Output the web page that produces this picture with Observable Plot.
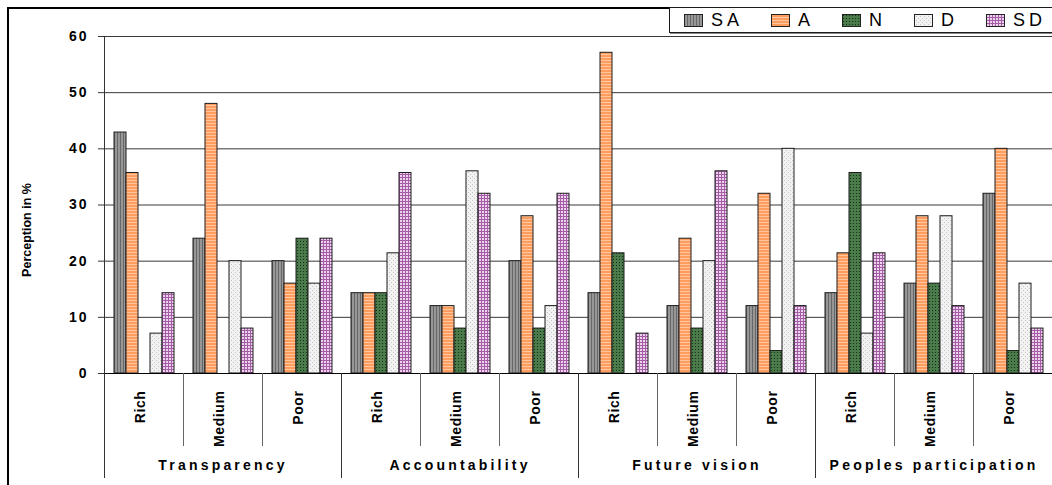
<!DOCTYPE html>
<html>
<head>
<meta charset="utf-8">
<script src="https://cdn.jsdelivr.net/npm/d3@7"></script>
<script src="https://cdn.jsdelivr.net/npm/@observablehq/plot@0.6"></script>
<style>
  body { margin: 0; background: #fff; font-family: "Liberation Sans", Arial, sans-serif; }
  #wrap { position: relative; width: 1052px; height: 485px; overflow: hidden; }
  #border { position: absolute; left: 7px; top: 7px; width: 1200px; height: 700px; border-left: 2px solid #000; border-top: 2px solid #000; }
  #chart { position: absolute; left: 0; top: 0; }
  #legend { position: absolute; left: 669px; top: 7px; width: 371px; height: 24px; border: 1px solid #1a1a1a; box-shadow: 1px 1px 0 #888; background: #fff; display: flex; align-items: center; padding-left: 14px; box-sizing: content-box; }
  .item { display: flex; align-items: center; margin-right: 28px; }
  .item svg { display: block; margin-right: 8px; }
  .item span { font-size: 18px; letter-spacing: 4px; color: #000; line-height: 1; }
</style>
</head>
<body>
<svg width="0" height="0" style="position:absolute">
  <defs>
    <pattern id="pSA" patternUnits="userSpaceOnUse" width="3" height="3">
      <rect width="3" height="3" fill="#979797"/>
      <rect width="1" height="3" fill="#686868"/>
    </pattern>
    <pattern id="pA" patternUnits="userSpaceOnUse" width="3" height="3">
      <rect width="3" height="3" fill="#ff9d5e"/>
      <rect width="3" height="1" fill="#ffc6a0"/>
    </pattern>
    <pattern id="pN" patternUnits="userSpaceOnUse" width="3" height="3">
      <rect width="3" height="3" fill="#4b7b4b"/>
      <rect x="1" y="1" width="1" height="1" fill="#163216"/>
    </pattern>
    <pattern id="pD" patternUnits="userSpaceOnUse" width="4" height="4">
      <rect width="4" height="4" fill="#f2f2f2"/>
      <rect x="0" y="0" width="1" height="1" fill="#c4c4c4"/>
      <rect x="2" y="2" width="1" height="1" fill="#c4c4c4"/>
    </pattern>
    <pattern id="pSD" patternUnits="userSpaceOnUse" width="3" height="3">
      <rect width="3" height="3" fill="#a45ca4"/>
      <rect x="1" y="1" width="2" height="2" fill="#eed3ee"/>
    </pattern>
  </defs>
</svg>
<div id="wrap">
  <div id="border"></div>
  <div id="chart"></div>
  <div id="legend"></div>
</div>
<script>
// ---- data ----
const categories = ["Transparency", "Accountability", "Future vision", "Peoples participation"];
const levels = ["Rich", "Medium", "Poor"];
const seriesNames = ["SA", "A", "N", "D", "SD"];
// values per subgroup, order: Transparency R/M/P, Accountability R/M/P, Future vision R/M/P, Peoples participation R/M/P
const valuesSA = [42.9, 24, 20, 14.3, 12, 20, 14.3, 12, 12, 14.3, 16, 32];
const valuesA  = [35.7, 48, 16, 14.3, 12, 28, 57.1, 24, 32, 21.4, 28, 40];
const valuesN  = [0, 0, 24, 14.3, 8, 8, 21.4, 8, 4, 35.7, 16, 4];
const valuesD  = [7.1, 20, 16, 21.4, 36, 12, 0, 20, 40, 7.1, 28, 16];
const valuesSD = [14.3, 8, 24, 35.7, 32, 32, 7.1, 36, 12, 21.4, 12, 8];
const yTicks = [0, 10, 20, 30, 40, 50, 60];
const gridTicks = [10, 20, 30, 40, 50, 60];
const yLabel = "Perception in %";
const patternIds = ["pSA", "pA", "pN", "pD", "pSD"];

// ---- build table ----
const seriesValues = [valuesSA, valuesA, valuesN, valuesD, valuesSD];
const keys = categories.flatMap(c => levels.map(l => c + "|" + l));
const rows = [];
categories.forEach((c, ci) => levels.forEach((l, li) => seriesNames.forEach((s, si) => {
  const v = seriesValues[si][ci * levels.length + li];
  if (v > 0) rows.push({key: c + "|" + l, cat: c, level: l, series: s, value: v});
})));
const subRows = keys.map(k => ({key: k, level: k.split("|")[1]}));

const plot = Plot.plot({
  width: 1052,
  height: 485,
  marginLeft: 104,
  marginRight: 0,
  marginTop: 36,
  marginBottom: 112,
  style: {fontFamily: "Liberation Sans, Arial, sans-serif", background: "transparent", color: "#000", overflow: "visible"},
  fx: {domain: keys, padding: 0, axis: null},
  x: {domain: seriesNames, paddingInner: 0, paddingOuter: 0.7, axis: null},
  y: {domain: [0, 60], axis: null},
  color: {domain: seriesNames, range: patternIds.map(id => `url(#${id})`)},
  marks: [
    Plot.ruleY(gridTicks, {stroke: "#383838", strokeWidth: 1}),
    Plot.barY(rows, {fx: "key", x: "series", y: "value", fill: "series", stroke: "#1c1c1c", strokeWidth: 1, inset: 0}),
    Plot.ruleY([0], {stroke: "#000", strokeWidth: 1}),
    Plot.axisY({ticks: yTicks, tickSize: 6, tickPadding: 10, fontSize: 14, fontWeight: "bold", stroke: "#333", label: null}),
    Plot.text(subRows, {fx: "key", text: "level", frameAnchor: "bottom", rotate: -90, textAnchor: "end", lineAnchor: "middle", dy: 17, dx: -3, fontSize: 14, fontWeight: "bold"}),
    Plot.text(categories, {fx: d => d + "|Medium", text: d => d, frameAnchor: "bottom", textAnchor: "middle", dy: 96, fontSize: 14, fontWeight: "bold"}),
    Plot.text([yLabel], {fx: () => keys[0], text: d => d, frameAnchor: "left", textAnchor: "middle", rotate: -90, dx: -78, dy: 25, fontSize: 12.5, fontWeight: "bold"})
  ]
});
document.getElementById("chart").appendChild(plot);

const svg = d3.select(plot.tagName.toLowerCase() === "svg" ? plot : plot.querySelector("svg"));

// letter spacing of the spaced-out labels
const tickStrings = yTicks.map(String);
svg.selectAll("text").each(function () {
  const t = this.textContent;
  if (categories.includes(t)) d3.select(this).style("letter-spacing", "3.2px");
  else if (levels.includes(t)) d3.select(this).style("letter-spacing", "0.6px");
  else if (tickStrings.includes(t)) d3.select(this).style("letter-spacing", "2px");
});

// ---- separator lines below the axis, positioned from the fx / y scales ----
let fxApply;
try {
  const fxs = plot.scale("fx"); fxApply = k => fxs.apply(k);
} catch (e) {
  const step = (1052 - 104) / keys.length; fxApply = k => 104 + keys.indexOf(k) * step;
}
const ys = plot.scale("y");
const y0 = ys.apply(0), yTop = ys.apply(60);
const sep = svg.append("g").attr("aria-label", "separators");
keys.forEach((k, i) => {
  const x = Math.round(fxApply(k)) + 0.5;
  const isGroup = i % levels.length === 0;
  sep.append("line")
    .attr("x1", x).attr("x2", x)
    .attr("y1", i === 0 ? yTop : y0)
    .attr("y2", isGroup ? y0 + 105 : y0 + 73)
    .attr("stroke", isGroup ? "#333" : "#666")
    .attr("stroke-width", 1);
});

// ---- legend ----
const legend = d3.select("#legend");
seriesNames.forEach((s, i) => {
  const it = legend.append("div").attr("class", "item");
  const sw = it.append("svg").attr("width", 19).attr("height", 13);
  sw.append("rect").attr("x", 0.5).attr("y", 0.5).attr("width", 18).attr("height", 12)
    .attr("fill", `url(#${patternIds[i]})`).attr("stroke", "#222");
  it.append("span").text(s);
});
</script>
</body>
</html>
